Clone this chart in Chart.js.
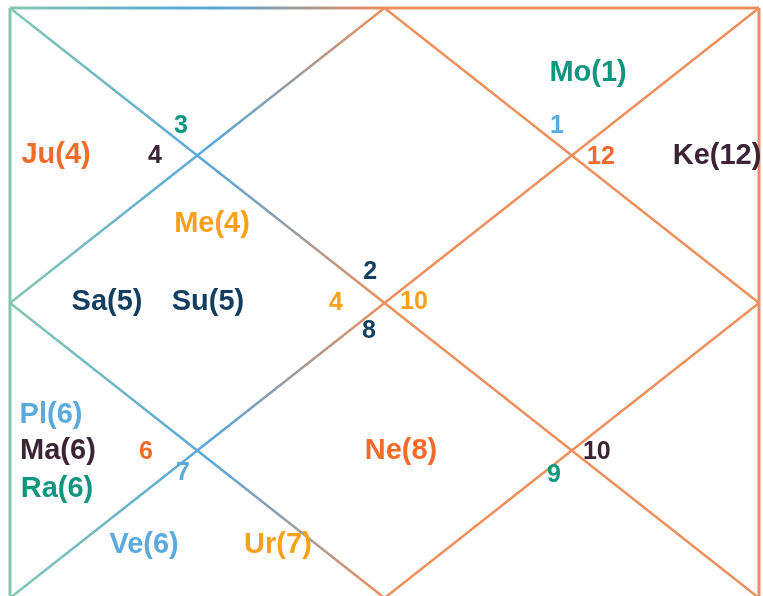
<!DOCTYPE html>
<html>
<head>
<meta charset="utf-8">
<script src="https://cdn.jsdelivr.net/npm/chart.js@4.4.0/dist/chart.umd.min.js"></script>
<style>
  html, body { margin: 0; padding: 0; background: #fff; overflow: hidden; }
  #wrap { width: 763px; height: 606px; }
</style>
</head>
<body>
<div id="wrap"><canvas id="myChart" width="763" height="606"></canvas></div>
<script>
// planets and the sign each one sits in
const planets = ['Mo', 'Ke', 'Ju', 'Me', 'Sa', 'Su', 'Pl', 'Ma', 'Ra', 'Ve', 'Ur', 'Ne'];
const planetSigns = [1, 12, 4, 4, 5, 5, 6, 6, 6, 6, 7, 8];

// sign numbers written next to the line crossings
const signNumbers = [3, 4, 1, 12, 2, 4, 10, 8, 6, 7, 10, 9];

// colours
const TEAL = '#10957f', ORANGE = '#f26b2c', GOLD = '#f9a11b',
      NAVY = '#143e5f', PLUM = '#3b2433', SKY = '#5aaade';
const planetColors = [TEAL, PLUM, ORANGE, GOLD, NAVY, NAVY, SKY, PLUM, TEAL, SKY, GOLD, ORANGE];
const signColors = [TEAL, PLUM, SKY, ORANGE, NAVY, GOLD, GOLD, NAVY, ORANGE, SKY, PLUM, TEAL];

// where the texts go, in the chart's own 0..4 grid (x, baseline y)
const planetPos = [
  [3.087, 0.495], [3.776, 1.058], [0.246, 1.051], [1.079, 1.519],
  [0.518, 2.047], [1.057, 2.047], [0.219, 2.814], [0.256, 3.058],
  [0.251, 3.315], [0.716, 3.695], [1.431, 3.695], [2.088, 3.058]
];
const signPos = [
  [0.913, 0.847], [0.774, 1.051], [2.921, 0.847], [3.156, 1.058],
  [1.923, 1.837], [1.741, 2.047], [2.157, 2.041], [1.917, 2.237],
  [0.726, 3.058], [0.924, 3.200], [3.134, 3.058], [2.905, 3.214]
];

// frame: outer box, the two diagonals and the inner diamond
const frameLines = [
  [[0, 0], [4, 0]], [[4, 0], [4, 4]], [[4, 4], [0, 4]], [[0, 4], [0, 0]]
];
const innerLines = [
  [[0, 0], [4, 4]], [[4, 0], [0, 4]],
  [[2, 0], [4, 2]], [[4, 2], [2, 4]], [[2, 4], [0, 2]], [[0, 2], [2, 0]]
];

// left half fades teal -> blue -> orange, right half is orange
function lineGradient(context) {
  const chart = context.chart;
  const area = chart.chartArea;
  if (!area) return '#ee8f5e';
  const g = chart.ctx.createLinearGradient(area.left, 0, area.right, 0);
  g.addColorStop(0, '#84c6b0');
  g.addColorStop(0.27, '#58a7da');
  g.addColorStop(0.39, '#a39b97');
  g.addColorStop(0.5, '#ee8f5e');
  g.addColorStop(1, '#ee8f5e');
  return g;
}

function toDataset(seg, width) {
  return {
    data: seg.map(p => ({ x: p[0], y: p[1] })),
    showLine: true,
    borderColor: lineGradient,
    borderWidth: width,
    pointRadius: 0,
    tension: 0,
    clip: false
  };
}

// draws the planet labels and sign numbers through the scales
const textPlugin = {
  id: 'chartText',
  afterDatasetsDraw(chart) {
    const ctx = chart.ctx;
    const sx = chart.scales.x, sy = chart.scales.y;
    ctx.save();
    ctx.textAlign = 'center';
    ctx.textBaseline = 'alphabetic';
    ctx.font = 'bold 29px "Liberation Sans", Arial, sans-serif';
    planets.forEach((p, i) => {
      ctx.fillStyle = planetColors[i];
      ctx.fillText(p + '(' + planetSigns[i] + ')',
        sx.getPixelForValue(planetPos[i][0]), sy.getPixelForValue(planetPos[i][1]));
    });
    ctx.font = 'bold 25px "Liberation Sans", Arial, sans-serif';
    signNumbers.forEach((n, i) => {
      ctx.fillStyle = signColors[i];
      ctx.fillText(String(n),
        sx.getPixelForValue(signPos[i][0]), sy.getPixelForValue(signPos[i][1]));
    });
    ctx.restore();
  }
};

let ctx = document.getElementById('myChart');

let myChart = new Chart(ctx, {
  type: 'scatter',
  data: {
    datasets: innerLines.map(s => toDataset(s, 2.5))
      .concat(frameLines.map(s => toDataset(s, 3)))
  },
  options: {
    responsive: false,
    animation: false,
    events: [],
    layout: { padding: { left: 10, top: 8, right: 4, bottom: 8 } },
    scales: {
      x: { type: 'linear', min: 0, max: 4, display: false },
      y: { type: 'linear', min: 0, max: 4, reverse: true, display: false }
    },
    plugins: {
      legend: { display: false },
      tooltip: { enabled: false }
    }
  },
  plugins: [textPlugin]
});
</script>
</body>
</html>
